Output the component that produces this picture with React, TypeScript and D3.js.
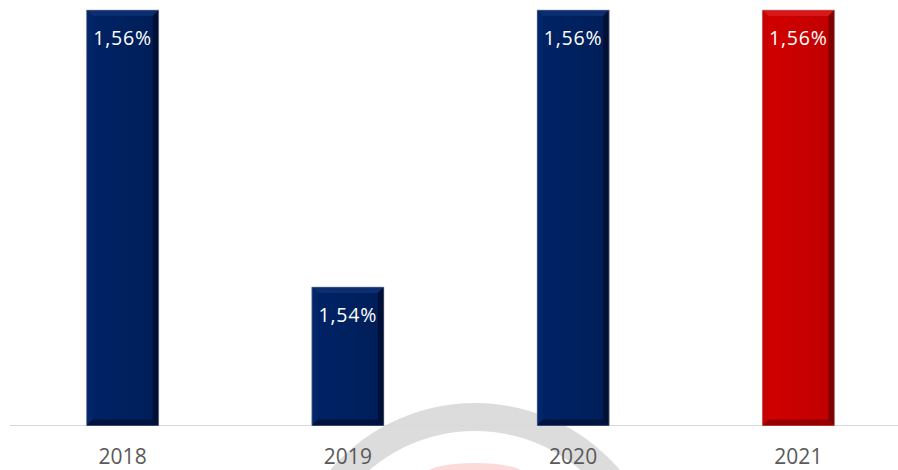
import { useEffect, useRef } from 'react';
import * as d3 from 'd3';

const years = ['2018', '2019', '2020', '2021'];
const rates = [1.56, 1.54, 1.56, 1.56];
const labels = ['1,56%', '1,54%', '1,56%', '1,56%'];
const highlightYear = '2021';

const W = 898;
const H = 470;

export default function App() {
  const svgRef = useRef<SVGSVGElement>(null);

  useEffect(() => {
    if (!svgRef.current) return;
    document.body.style.margin = '0';

    const svg = d3.select(svgRef.current);
    svg.selectAll('*').remove();

    const x = d3.scaleBand<string>()
      .domain(years)
      .range([10, 911])
      .paddingInner(0.68)
      .paddingOuter(0.34);

    const y = d3.scaleLinear().domain([1.53, 1.56]).range([425.5, 10]);

    const defs = svg.append('defs');
    const grad = (id: string, a: string, b: string) => {
      const g = defs.append('linearGradient').attr('id', id).attr('x1', '0').attr('x2', '1');
      g.append('stop').attr('offset', '0%').attr('stop-color', a);
      g.append('stop').attr('offset', '100%').attr('stop-color', b);
    };
    grad('navyFace', '#002366', '#001e58');
    grad('redFace', '#d20000', '#c00000');

    // watermark (logo en fondo)
    const wm = svg.append('g');
    wm.append('path')
      .attr('transform', 'translate(475,593)')
      .attr('d', d3.arc()({ innerRadius: 162, outerRadius: 190, startAngle: -0.92, endAngle: 0.92 }) as string)
      .attr('fill', '#d3d3d3')
      .attr('opacity', 0.8);
    wm.append('ellipse')
      .attr('cx', 475).attr('cy', 473).attr('rx', 48).attr('ry', 10)
      .attr('fill', '#fcdada');

    // eje X
    svg.append('line')
      .attr('x1', 10).attr('x2', W)
      .attr('y1', 425.5).attr('y2', 425.5)
      .attr('stroke', '#d9d9d9')
      .attr('stroke-width', 1.2);

    const bev = 6;
    const bars = svg.append('g').selectAll('g')
      .data(years.map((yr, i) => ({ yr, v: rates[i], label: labels[i] })))
      .join('g');

    bars.each(function (d) {
      const g = d3.select(this);
      const x0 = x(d.yr)!;
      const x1 = x0 + x.bandwidth();
      const y0 = y(d.v);
      const y1 = y(1.53);
      const red = d.yr === highlightYear;
      const c = red
        ? { top: '#d81818', left: '#c80000', right: '#7e0000', bottom: '#950000', edge: '#b0a0a0' }
        : { top: '#0c2d6e', left: '#03266a', right: '#000f35', bottom: '#00123f', edge: '#9aa0ac' };

      g.append('rect')
        .attr('x', x0).attr('y', y0)
        .attr('width', x1 - x0).attr('height', y1 - y0)
        .attr('fill', red ? 'url(#redFace)' : 'url(#navyFace)');

      const poly = (pts: [number, number][], fill: string) =>
        g.append('polygon').attr('points', pts.map(p => p.join(',')).join(' ')).attr('fill', fill);

      poly([[x0, y0], [x1, y0], [x1 - bev, y0 + bev], [x0 + bev, y0 + bev]], c.top);
      poly([[x0, y0], [x0 + bev, y0 + bev], [x0 + bev, y1 - bev], [x0, y1]], c.left);
      poly([[x1, y0], [x1, y1], [x1 - bev, y1 - bev], [x1 - bev, y0 + bev]], c.right);
      poly([[x0, y1], [x0 + bev, y1 - bev], [x1 - bev, y1 - bev], [x1, y1]], c.bottom);

      g.append('path')
        .attr('d', `M${x0},${y1}V${y0}H${x1}V${y1}`)
        .attr('fill', 'none')
        .attr('stroke', c.edge)
        .attr('stroke-width', 0.8)
        .attr('opacity', 0.7);

      g.append('text')
        .attr('x', (x0 + x1) / 2)
        .attr('y', y0 + 35)
        .attr('text-anchor', 'middle')
        .attr('fill', '#ffffff')
        .attr('font-family', '"Open Sans", sans-serif')
        .attr('font-size', 19.5)
        .attr('letter-spacing', 0.8)
        .text(d.label);
    });

    // etiquetas de años
    svg.append('g').selectAll('text')
      .data(years)
      .join('text')
      .attr('x', d => x(d)! + x.bandwidth() / 2)
      .attr('y', 464)
      .attr('text-anchor', 'middle')
      .attr('fill', '#595959')
      .attr('font-family', '"Open Sans", sans-serif')
      .attr('font-size', 21)
      .text(d => d);
  }, []);

  return (
    <svg ref={svgRef} width={W} height={H} style={{ display: 'block', background: '#ffffff' }} />
  );
}
